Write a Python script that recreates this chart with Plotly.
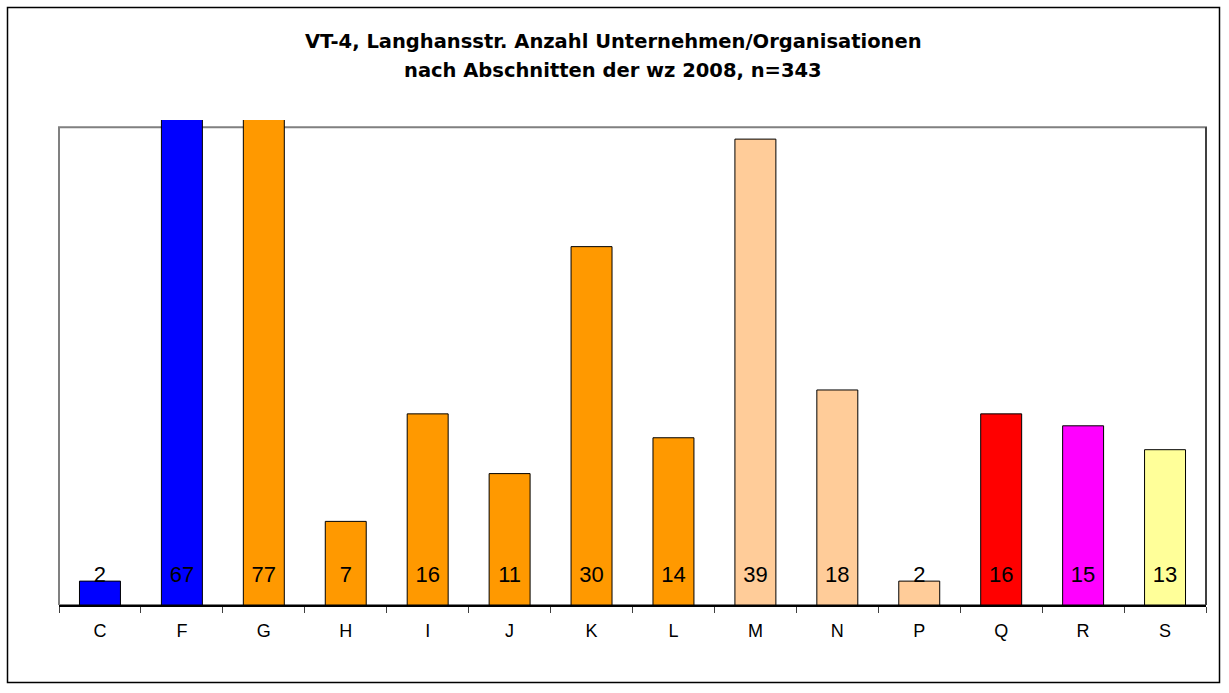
import plotly.graph_objects as go

# WZ 2008 sections and number of companies/organisations per section
sections = ["C", "F", "G", "H", "I", "J", "K", "L", "M", "N", "P", "Q", "R", "S"]
counts = [2, 67, 77, 7, 16, 11, 30, 14, 39, 18, 2, 16, 15, 13]
bar_colors = ["#0000FF", "#0000FF", "#FF9900", "#FF9900", "#FF9900", "#FF9900",
              "#FF9900", "#FF9900", "#FFCC99", "#FFCC99", "#FFCC99", "#FF0000",
              "#FF00FF", "#FFFF99"]

title_lines = ["VT-4, Langhansstr. Anzahl Unternehmen/Organisationen",
               "nach Abschnitten der wz 2008, n=343"]

W, H = 1229, 693
ml, mr, mt, mb = 59, 23, 120, 88
pw, ph = W - ml - mr, H - mt - mb

def px_x(px):
    return (px - ml) / pw

def px_y(py):
    return (H - mb - py) / ph

fig = go.Figure()
fig.add_trace(go.Bar(
    x=sections, y=counts, width=0.5,
    marker=dict(color=bar_colors, line=dict(color="black", width=1)),
    hoverinfo="x+y",
))
# value labels sit near the base of each bar
fig.add_trace(go.Scatter(
    x=sections, y=[2.35] * len(sections), mode="text",
    text=[str(v) for v in counts],
    textfont=dict(family="Liberation Sans, Arial", size=22, color="black"),
    hoverinfo="skip",
))

shapes = [
    # plot area frame (top/left grey)
    dict(type="rect", xref="paper", yref="y", x0=0, x1=1, y0=0, y1=40,
         line=dict(color="#808080", width=2), layer="below"),
    # right edge of plot area
    dict(type="line", xref="paper", yref="y", x0=1, x1=1, y0=0, y1=40,
         line=dict(color="black", width=1)),
    # outer chart border
    dict(type="rect", xref="paper", yref="paper",
         x0=px_x(7.5), x1=px_x(1219.5), y0=px_y(682.5), y1=px_y(7.5),
         line=dict(color="black", width=1.5)),
]

annotations = [
    dict(text="<b>%s</b>" % line, xref="paper", yref="paper",
         x=px_x(613), y=px_y(yc), xanchor="center", yanchor="middle",
         showarrow=False,
         font=dict(family="DejaVu Sans", size=19.5, color="black"))
    for line, yc in zip(title_lines, [42, 71])
]

fig.update_layout(
    width=W, height=H,
    margin=dict(l=ml, r=mr, t=mt, b=mb),
    paper_bgcolor="white", plot_bgcolor="white",
    showlegend=False,
    bargap=0.5,
    xaxis=dict(
        type="category", showgrid=False, zeroline=False,
        showline=True, linecolor="black", linewidth=2,
        ticks="outside", tickson="boundaries", ticklen=6, tickcolor="#404040",
        tickfont=dict(family="Liberation Sans, Arial", size=18, color="black"),
        ticklabelstandoff=8,
        range=[-0.5, 13.5],
    ),
    yaxis=dict(range=[0, 40.6], visible=False, fixedrange=True),
    shapes=shapes,
    annotations=annotations,
)

fig.write_html("out.html")
